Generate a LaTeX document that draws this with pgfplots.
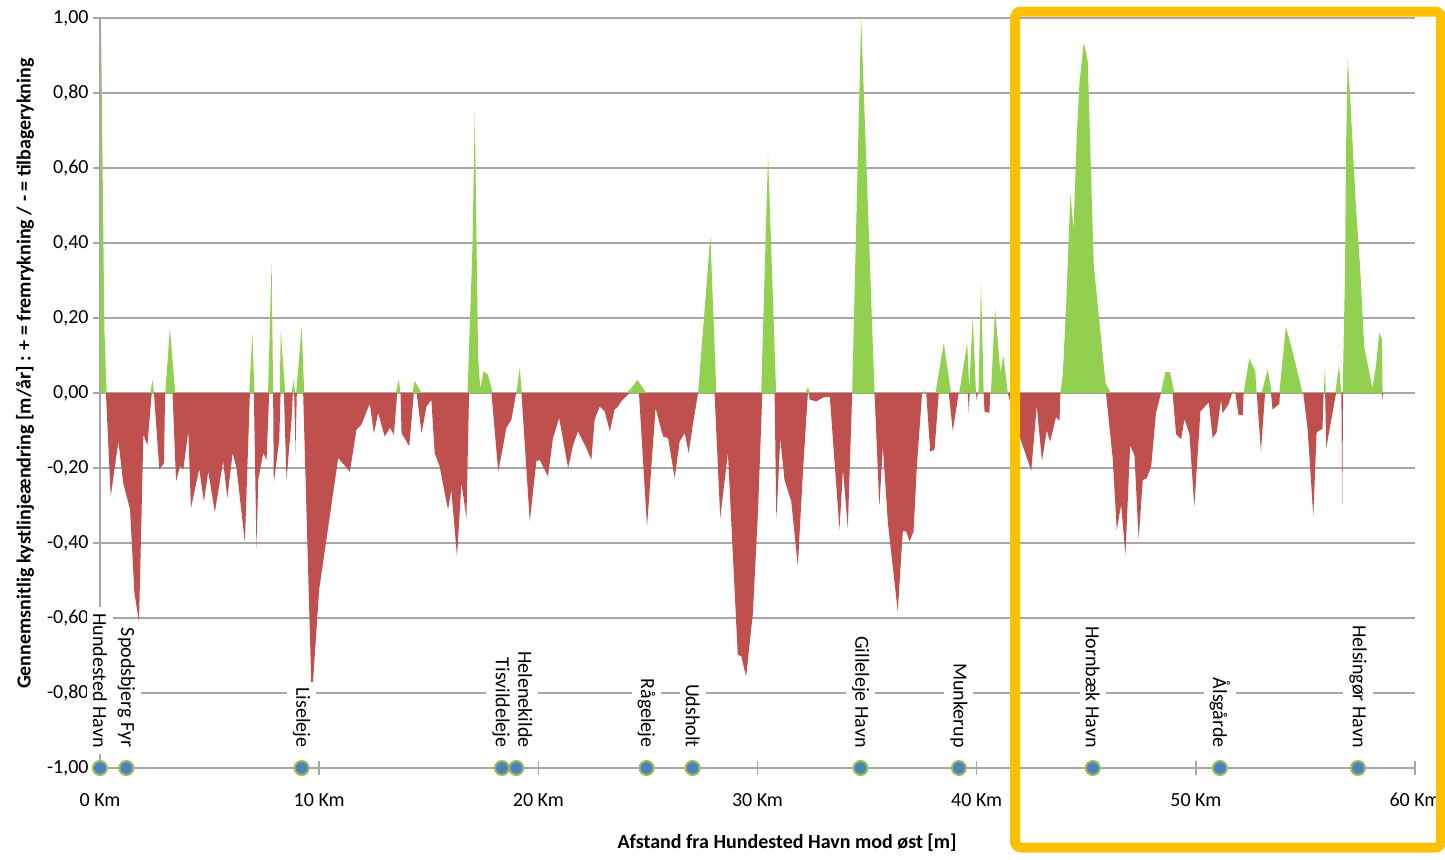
\documentclass[border=0pt]{standalone}
\usepackage{fontspec}
\setmainfont{Carlito}
\usepackage{pgfplots}
\usepackage{pgfplotstable}
\pgfplotsset{compat=1.18}

\definecolor{accretion}{HTML}{92D050}
\definecolor{erosion}{HTML}{C0504D}
\definecolor{gridgray}{HTML}{A6A6A6}
\definecolor{townblue}{HTML}{4F81BD}
\definecolor{townring}{HTML}{9BBB59}
\definecolor{highlight}{HTML}{FFC000}

% Towns along the coast: position of the marker (x), position of the label (lx)
\pgfplotstableread[col sep=comma]{
x,lx,y,name
0,0,-1,Hundested Havn
1.2,1.2,-1,Spodsbjerg Fyr
9.2,9.2,-1,Liseleje
18.34,18.3,-1,Tisvildeleje
18.99,19.4,-1,Helenekilde
24.94,24.94,-1,Rågeleje
27.04,27.04,-1,Udsholt
34.7,34.7,-1,Gilleleje Havn
39.19,39.19,-1,Munkerup
45.3,45.3,-1,Hornbæk Havn
51.1,51.1,-1,Ålsgårde
57.4,57.4,-1,Helsingør Havn
}\towns

\begin{document}
\begin{tikzpicture}
\useasboundingbox (-50pt,-45.5pt) rectangle (672.5pt,384pt);
\begin{axis}[
  at={(0,0)}, anchor=south west,
  scale only axis, width=657.5pt, height=375pt,
  xmin=0, xmax=60, ymin=-1, ymax=1,
  clip=false,
  font=\fontsize{10}{12}\selectfont,
  axis x line*=bottom, axis y line*=left,
  axis line style={gridgray, line width=0.75pt},
  tick style={gridgray, line width=0.75pt},
  tick align=center, major tick length=7pt,
  xtick={0,10,20,30,40,50,60},
  xticklabels={0 Km,10 Km,20 Km,30 Km,40 Km,50 Km,60 Km},
  ytick={-1,-0.8,-0.6,-0.4,-0.2,0,0.2,0.4,0.6,0.8,1},
  ymajorgrids,
  grid style={gridgray, line width=0.75pt},
  /pgf/number format/fixed,
  /pgf/number format/fixed zerofill,
  /pgf/number format/precision=2,
  /pgf/number format/use comma,
  /pgf/number format/assume math mode=true,
  xticklabel style={anchor=center, yshift=-12.5pt},
  yticklabel style={anchor=east, inner sep=0pt, xshift=-2pt},
  xlabel={Afstand fra Hundested Havn mod øst [m]},
  ylabel={Gennemsnitlig kystlinjeændring [m/år] : + = fremrykning / - = tilbagerykning},
  every axis x label/.style={at={(axis description cs:0.5225,-0.1)}, anchor=center, font=\fontsize{10}{12}\selectfont\bfseries},
  every axis y label/.style={at={(axis description cs:-0.057,0.526)}, rotate=90, anchor=center, font=\fontsize{10}{12}\selectfont\bfseries},
]

% accretion (positive values)
\addplot[fill=accretion, draw=none] coordinates {
(0,0) (0.05,0.97) (0.12,0.6) (0.2,0.17) (0.3,0)
(2.3,0) (2.39,0.035) (2.46,0)
(2.98,0) (3.19,0.173) (3.43,0)
(6.81,0) (6.95,0.16) (7.05,0)
(7.67,0) (7.83,0.35) (7.9,0)
(8.2,0) (8.25,0.166) (8.45,0)
(8.75,0) (8.82,0.035) (8.9,0)
(8.95,0) (9.2,0.177) (9.32,0)
(13.5,0) (13.63,0.035) (13.71,0)
(14.25,0) (14.36,0.032) (14.67,0)
(16.77,0) (17.0,0.4) (17.1,0.75) (17.18,0.4) (17.25,0.1) (17.35,0.01) (17.5,0.058) (17.69,0.05) (17.92,0)
(19.0,0) (19.15,0.066) (19.25,0)
(24.0,0) (24.2,0.01) (24.52,0.035) (24.93,0)
(27.29,0) (27.85,0.419) (28.12,0)
(30.17,0) (30.48,0.635) (30.85,0)
(32.2,0) (32.3,0.017) (32.38,0)
(34.32,0) (34.73,1.0) (35.34,0)
(37.55,0) (37.62,0.005) (37.7,0)
(38.12,0) (38.5,0.133) (38.83,0)
(39.2,0) (39.57,0.133) (39.66,0.01) (39.82,0.204) (39.97,0)
(40.08,0) (40.2,0.293) (40.32,0)
(40.65,0) (40.84,0.226) (41.08,0.054) (41.22,0.1) (41.42,0)
(43.82,0) (43.93,0.048) (44.08,0.231) (44.28,0.532) (44.42,0.435) (44.57,0.689) (44.69,0.827) (44.89,0.936) (45.07,0.883) (45.34,0.343) (45.6,0.19) (45.88,0.027) (46.06,0.007) (46.1,0)
(48.41,0) (48.61,0.056) (48.82,0.056) (49.02,0)
(51.6,0) (51.68,0.005) (51.78,0)
(52.18,0) (52.44,0.092) (52.71,0.058) (52.78,0)
(53.0,0) (53.28,0.063) (53.46,0)
(53.81,0) (54.11,0.178) (54.42,0.109) (54.87,0)
(55.84,0) (55.89,0.07) (55.93,0)
(56.36,0) (56.54,0.073) (56.63,0)
(56.7,0) (56.81,0.333) (56.85,0.64) (56.93,0.893) (57.05,0.78) (57.3,0.5) (57.5,0.33) (57.68,0.124) (58.06,0.012) (58.21,0.068) (58.37,0.16) (58.49,0.145) (58.52,0)
} \closedcycle;

% erosion (negative values)
\addplot[fill=erosion, draw=none] coordinates {
(0.27,0) (0.49,-0.276) (0.84,-0.129) (1.06,-0.24) (1.37,-0.31) (1.57,-0.533) (1.78,-0.61) (1.98,-0.11) (2.16,-0.14) (2.36,0)
(2.46,0) (2.71,-0.204) (2.92,-0.187) (2.97,0)
(3.31,0) (3.47,-0.236) (3.65,-0.194) (3.8,-0.204) (4.03,-0.102) (4.15,-0.307) (4.53,-0.203) (4.74,-0.289) (4.94,-0.209) (5.24,-0.318) (5.62,-0.182) (5.81,-0.28) (6.05,-0.16) (6.23,-0.2) (6.61,-0.398) (6.84,0)
(7.02,0) (7.14,-0.413) (7.22,-0.231) (7.45,-0.16) (7.6,-0.178) (7.72,0)
(7.9,0) (7.93,-0.24) (8.18,-0.124) (8.24,0)
(8.39,0) (8.51,-0.231) (8.74,-0.071) (8.8,0)
(8.86,0) (8.92,-0.156) (8.98,0)
(9.27,0) (9.64,-0.773) (9.72,-0.77) (10.0,-0.524) (10.87,-0.173) (11.4,-0.21) (11.7,-0.098) (11.93,-0.084) (12.31,-0.028) (12.5,-0.108) (12.69,-0.053) (12.99,-0.116) (13.23,-0.093) (13.41,-0.111) (13.56,0)
(13.71,0) (13.76,-0.107) (14.11,-0.142) (14.32,0)
(14.45,0) (14.67,-0.107) (14.9,-0.036) (15.12,-0.018) (15.27,-0.16) (15.5,-0.196) (15.73,-0.267) (15.88,-0.311) (16.03,-0.258) (16.29,-0.436) (16.49,-0.24) (16.72,-0.333) (16.84,0)
(17.86,0) (18.17,-0.209) (18.39,-0.142) (18.54,-0.093) (18.77,-0.071) (18.99,0)
(19.23,0) (19.61,-0.342) (19.91,-0.182) (20.06,-0.178) (20.44,-0.222) (20.67,-0.12) (20.95,-0.067) (21.36,-0.2) (21.59,-0.138) (21.81,-0.102) (22.19,-0.147) (22.42,-0.178) (22.57,-0.071) (22.8,-0.036) (23.03,-0.049) (23.26,-0.102) (23.48,-0.044) (23.64,-0.036) (23.79,-0.022) (24.17,0)
(24.59,0) (24.96,-0.356) (25.35,-0.04) (25.69,-0.116) (25.92,-0.12) (26.22,-0.227) (26.45,-0.129) (26.68,-0.107) (26.86,-0.16) (27.06,-0.08) (27.29,0)
(28.04,0) (28.3,-0.333) (28.65,-0.16) (29.1,-0.698) (29.26,-0.702) (29.48,-0.756) (29.79,-0.587) (30.02,-0.32) (30.22,0)
(30.78,0) (30.86,-0.338) (31.04,-0.12) (31.23,-0.231) (31.54,-0.289) (31.84,-0.462) (32.07,-0.213) (32.3,0)
(32.35,0) (32.38,-0.018) (32.69,-0.022) (33.0,-0.012) (33.3,-0.01) (33.74,-0.364) (33.9,-0.204) (34.12,-0.36) (34.32,0)
(35.34,0) (35.56,-0.302) (35.72,-0.142) (35.95,-0.347) (36.4,-0.582) (36.63,-0.369) (36.78,-0.369) (36.94,-0.396) (37.12,-0.369) (37.27,-0.196) (37.51,0)
(37.7,0) (37.88,-0.156) (38.08,-0.151) (38.27,0)
(38.73,0) (38.91,-0.102) (39.18,0)
(39.6,0) (39.64,-0.053) (39.68,0)
(39.97,0) (40.0,-0.02) (40.05,0)
(40.32,0) (40.36,-0.05) (40.58,-0.053) (40.62,0)
(41.42,0) (41.95,-0.115) (42.49,-0.207) (42.74,-0.034) (42.98,-0.181) (43.2,-0.1) (43.35,-0.13) (43.62,-0.064) (43.78,-0.074) (43.82,0)
(45.9,0) (46.21,-0.176) (46.39,-0.365) (46.59,-0.298) (46.79,-0.431) (47.0,-0.14) (47.2,-0.166) (47.39,-0.39) (47.58,-0.232) (47.76,-0.227) (47.96,-0.197) (48.18,-0.054) (48.41,0)
(48.94,0) (49.1,-0.11) (49.33,-0.123) (49.48,-0.069) (49.71,-0.11) (49.93,-0.303) (50.21,-0.049) (50.59,-0.025) (50.77,-0.12) (50.95,-0.105) (51.15,-0.018) (51.22,-0.054) (51.5,-0.029) (51.66,0)
(51.8,0) (51.95,-0.059) (52.14,-0.059) (52.18,0)
(52.78,0) (52.97,-0.156) (53.16,0)
(53.43,0) (53.5,-0.044) (53.81,-0.029) (53.84,0)
(54.9,0) (55.1,-0.095) (55.36,-0.329) (55.51,-0.105) (55.78,-0.095) (55.83,0)
(55.9,0) (55.95,-0.146) (56.36,-0.013) (56.4,0)
(56.64,0) (56.68,-0.298) (56.72,0)
(58.5,0) (58.52,-0.02) (58.55,0)
} \closedcycle;

% town names
\addplot[only marks, mark=none, point meta=explicit symbolic,
  nodes near coords,
  every node near coord/.style={yshift=7pt, rotate=-90, anchor=east, inner sep=3pt, fill=white, text=black, font=\fontsize{10}{12}\selectfont}]
  table[x=lx, y=y, meta=name] {\towns};

% town markers
\addplot[only marks, mark=*, mark size=3.5pt, mark options={fill=townblue, draw=townring, line width=1pt}]
  table[x=x, y=y] {\towns};

% highlighted stretch
\draw[highlight, line width=5pt, rounded corners=3pt]
  (axis cs:41.75,1.017) rectangle (axis cs:61.19,-1.212);
\end{axis}
\end{tikzpicture}
\end{document}
